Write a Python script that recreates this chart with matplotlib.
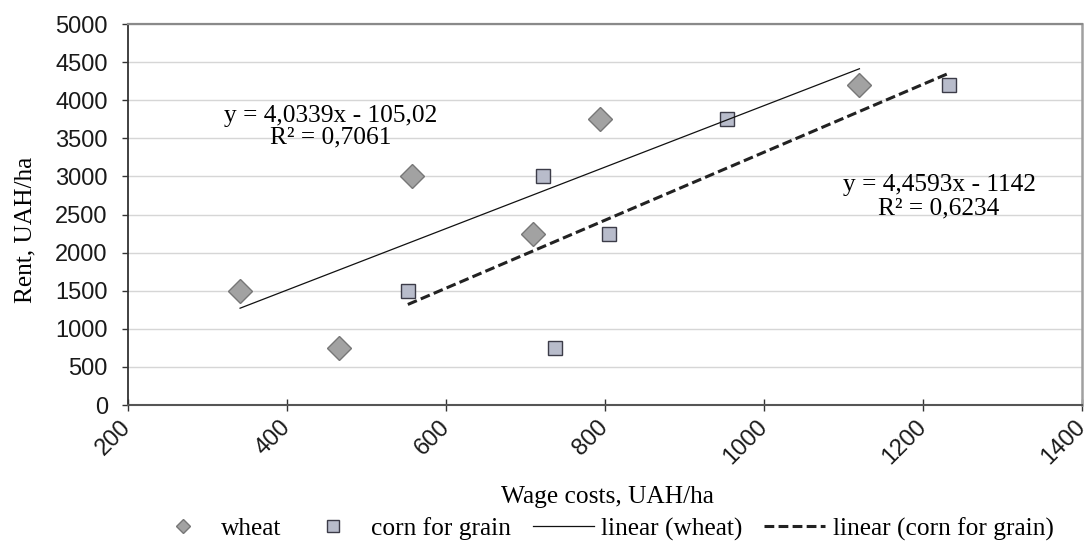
import numpy as np
import matplotlib
matplotlib.use("Agg")
import matplotlib.pyplot as plt
from matplotlib.lines import Line2D

# data
wheat_x = [341, 466, 557, 710, 794, 1120]
wheat_y = [1500, 750, 3000, 2250, 3750, 4200]
corn_x = [552, 737, 722, 805, 953, 1233]
corn_y = [1500, 750, 3000, 2250, 3750, 4200]

# trend equations as printed on the chart
wheat_k, wheat_b = 4.0339, -105.02
corn_k, corn_b = 4.4593, -1142
wheat_eq = "y = 4,0339x - 105,02\nR² = 0,7061"
corn_eq = "y = 4,4593x - 1142\nR² = 0,6234"

x_ticks = [200, 400, 600, 800, 1000, 1200, 1400]
y_ticks = list(range(0, 5001, 500))

serif = "Liberation Serif"
sans = "Liberation Sans"
fs = 18.3

fig = plt.figure(figsize=(10.91, 5.43), dpi=100)
ax = fig.add_axes([0.1173, 0.2541, 0.8745, 0.7017])

ax.set_xlim(200, 1400)
ax.set_ylim(0, 5000)
ax.set_yticks(y_ticks)
ax.set_xticks(x_ticks)
ax.grid(axis="y", color="#d6d6d6", linewidth=1.0, zorder=0)
ax.set_axisbelow(True)

# markers
ax.plot(wheat_x, wheat_y, linestyle="none", marker="D", markersize=12.2,
        markerfacecolor="#a2a2a2", markeredgecolor="#777777", markeredgewidth=1.0, zorder=3)
ax.plot(corn_x, corn_y, linestyle="none", marker="s", markersize=9.4,
        markerfacecolor="#b8bccb", markeredgecolor="#3c3c48", markeredgewidth=1.0, zorder=3)

# trend lines
xw = np.array([min(wheat_x), max(wheat_x)])
xc = np.array([min(corn_x), max(corn_x)])
ax.plot(xw, wheat_k * xw + wheat_b, color="#111111", linewidth=0.9, zorder=4)
ax.plot(xc, corn_k * xc + corn_b, color="#222222", linewidth=2.2,
        linestyle=(0, (3.2, 1.4)), zorder=4)

# equations
ax.text(455, 3650, wheat_eq, family=serif, fontsize=fs, ha="center", va="center",
        multialignment="center", linespacing=1.0, zorder=5)
ax.text(1220, 2735, corn_eq, family=serif, fontsize=fs, ha="center", va="center",
        multialignment="center", linespacing=1.1, zorder=5)

# spines and ticks
ax.spines["left"].set_color("#333333")
ax.spines["left"].set_linewidth(1.3)
ax.spines["bottom"].set_color("#555555")
ax.spines["bottom"].set_linewidth(1.5)
ax.spines["top"].set_color("#8a8a8a")
ax.spines["top"].set_linewidth(1.6)
ax.spines["right"].set_color("#a0a0a0")
ax.spines["right"].set_linewidth(1.8)

ax.tick_params(axis="y", direction="out", length=4.5, width=1.0, color="#333333",
               pad=10, labelsize=17)
ax.tick_params(axis="x", direction="inout", length=9, width=1.0, color="#333333",
               pad=9, labelsize=17)
for lab in ax.get_yticklabels() + ax.get_xticklabels():
    lab.set_family(sans)
    lab.set_color("#1a1a1a")
plt.setp(ax.get_xticklabels(), rotation=45, ha="right", va="center", rotation_mode="anchor")

# axis titles
fig.text(25 / 1091, 1 - 230 / 543, "Rent, UAH/ha", family=serif, fontsize=fs,
         rotation=90, ha="center", va="center")
fig.text(607 / 1091, 1 - 497 / 543, "Wage costs, UAH/ha", family=serif, fontsize=fs,
         ha="center", va="center")

# legend
handles = [
    Line2D([], [], linestyle="none", marker="D", markersize=7, markerfacecolor="#a2a2a2",
           markeredgecolor="#777777"),
    Line2D([], [], linestyle="none", marker="s", markersize=8.5, markerfacecolor="#b8bccb",
           markeredgecolor="#3c3c48"),
    Line2D([], [], color="#111111", linewidth=0.9),
    Line2D([], [], color="#222222", linewidth=2.2, linestyle=(0, (3.2, 1.4))),
]
labels = ["wheat", "corn for grain", "linear (wheat)", "linear (corn for grain)"]
fig.legend(handles, labels, loc="center", bbox_to_anchor=(603 / 1091, 1 - 529 / 543),
           ncol=4, frameon=False, prop={"family": serif, "size": fs},
           handlelength=2.4, handletextpad=0.3, columnspacing=0.85, borderpad=0)

fig.savefig("out.png", dpi=100)
